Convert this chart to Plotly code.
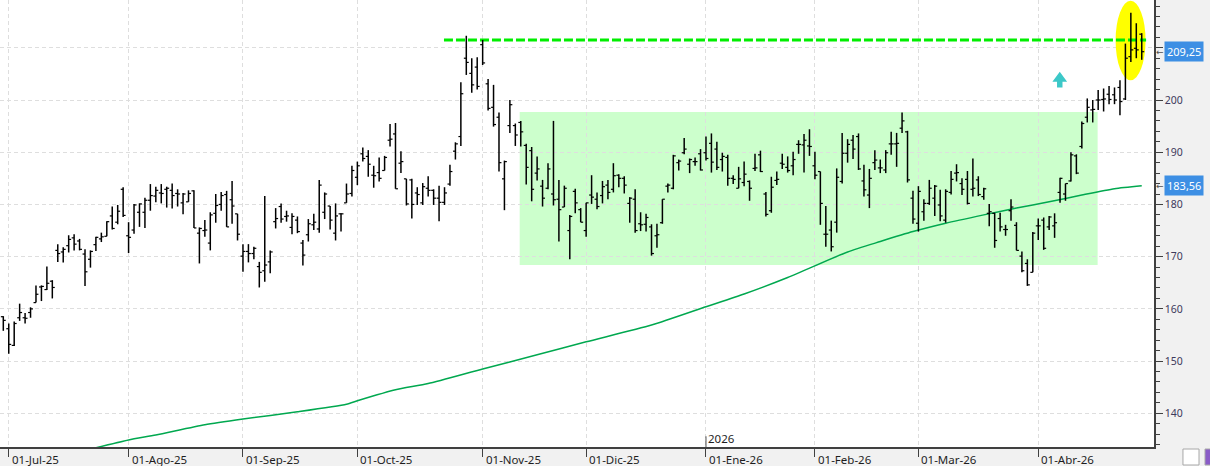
import pandas as pd
import plotly.graph_objects as go

# ---------------- data ----------------
holidays = ['2025-07-04', '2025-09-01', '2025-11-27', '2025-12-25',
            '2026-01-01', '2026-01-19', '2026-02-16', '2026-04-03']
dates = [d.strftime('%Y-%m-%d') for d in pd.bdate_range('2025-06-30', '2026-04-29')
         if d.strftime('%Y-%m-%d') not in holidays]

open_ = [158.5, 156.2, 153.0, 158.3, 158.3, 159.3, 161.2, 164.2, 163.7, 165.3,
         171.2, 170.9, 172.1, 173.6, 173.0, 170.5, 169.5, 172.3, 173.4, 173.9,
         177.8, 176.6, 182.9, 174.0, 175.1, 178.5, 178.5, 180.8, 181.6, 182.2,
         182.9, 182.7, 182.1, 180.3, 180.5, 182.6, 174.5, 175.0, 172.6, 178.3,
         180.0, 181.9, 180.9, 178.2, 170.1, 171.0, 170.6, 168.1, 167.3, 169.0,
         176.7, 179.6, 177.7, 175.6, 177.0, 172.6, 174.2, 176.1, 175.3, 178.5,
         179.7, 174.5, 178.2, 180.3, 182.1, 185.2, 189.7, 189.2, 185.6, 186.1,
         186.5, 192.3, 193.5, 187.9, 184.9, 184.7, 182.2, 180.3, 183.1, 182.7,
         181.2, 180.4, 183.9, 190.2, 193.0, 208.0, 205.1, 206.3, 210.6, 203.1,
         198.6, 196.7, 184.9, 195.1, 195.1, 195.7, 191.3, 190.3, 186.0, 183.5,
         183.1, 182.0, 181.0, 179.5, 175.0, 182.5, 179.0, 175.0, 181.8, 181.0,
         181.7, 183.7, 182.9, 185.6, 185.0, 180.2, 181.0, 176.3, 176.2, 175.7,
         174.0, 176.5, 183.5, 183.1, 188.0, 189.9, 187.7, 188.2, 189.7, 189.9,
         191.7, 190.6, 188.6, 189.0, 185.0, 183.1, 184.2, 184.4, 186.9, 189.5,
         182.0, 178.8, 184.6, 187.9, 187.1, 187.4, 191.5, 191.4, 191.2, 187.4,
         186.3, 174.3, 175.1, 176.6, 184.4, 189.8, 192.3, 193.0, 184.5, 181.8,
         188.0, 187.0, 186.6, 191.6, 191.6, 194.6, 193.9, 181.2, 176.4, 178.6,
         180.2, 181.2, 179.9, 177.0, 182.3, 186.0, 184.0, 184.8, 182.9, 184.7,
         181.5, 178.3, 178.3, 177.3, 175.2, 178.8, 176.0, 170.1, 168.7, 167.0,
         175.9, 177.0, 175.7, 175.9, 182.3, 182.0, 184.5, 189.3, 191.1, 196.7,
         198.1, 200.0, 200.1, 201.1, 201.0, 202.4, 200.2, 208.3, 209.9, 212.6]

high = [158.6, 157.2, 157.6, 161.0, 159.2, 160.3, 164.5, 164.5, 168.1, 165.5,
        172.4, 171.8, 174.1, 174.3, 173.4, 171.4, 171.2, 173.8, 174.6, 176.8,
        179.6, 179.9, 183.3, 176.6, 180.1, 180.2, 181.3, 183.9, 183.4, 183.9,
        183.4, 184.0, 182.9, 182.2, 182.7, 182.7, 175.6, 177.0, 178.5, 182.0,
        182.4, 182.6, 184.5, 178.2, 172.4, 172.4, 171.9, 169.0, 181.6, 171.2,
        179.3, 180.2, 178.8, 178.3, 177.7, 173.2, 177.2, 178.2, 184.7, 182.3,
        179.7, 180.2, 178.3, 184.0, 187.4, 188.2, 190.9, 190.4, 187.4, 189.0,
        189.3, 195.4, 195.6, 190.2, 184.9, 184.9, 183.3, 184.1, 185.4, 182.9,
        183.6, 183.3, 187.6, 191.9, 203.4, 212.3, 208.0, 208.2, 211.5, 204.0,
        202.9, 197.6, 188.4, 200.0, 195.5, 196.0, 191.6, 191.0, 189.2, 184.7,
        187.9, 196.0, 184.7, 183.6, 178.0, 183.0, 179.3, 180.3, 185.6, 182.3,
        184.5, 184.7, 187.9, 185.8, 185.4, 181.4, 182.9, 178.5, 178.2, 176.2,
        176.3, 181.0, 184.0, 189.5, 188.6, 192.7, 188.8, 189.0, 190.6, 193.0,
        193.6, 192.0, 189.9, 189.5, 185.6, 187.2, 188.2, 184.6, 189.7, 190.3,
        182.4, 185.3, 186.3, 189.7, 189.2, 190.1, 192.3, 193.5, 194.4, 190.1,
        186.3, 179.7, 176.9, 186.9, 193.7, 192.5, 193.3, 193.6, 187.6, 186.8,
        190.4, 188.6, 190.4, 193.9, 193.7, 197.6, 194.1, 182.6, 183.5, 181.0,
        184.7, 183.7, 182.8, 182.9, 186.4, 187.7, 185.0, 186.4, 188.8, 185.4,
        183.2, 180.1, 178.4, 178.4, 176.1, 181.0, 176.6, 171.0, 169.5, 174.7,
        177.3, 177.5, 177.8, 178.3, 185.1, 184.0, 190.0, 189.6, 195.9, 200.3,
        200.0, 201.9, 202.2, 202.7, 202.4, 203.8, 210.8, 216.7, 214.7, 212.8]

low = [155.8, 151.4, 152.9, 157.7, 157.2, 158.3, 161.2, 161.5, 163.6, 162.0,
       169.0, 168.9, 170.8, 171.2, 171.2, 164.4, 167.9, 171.1, 172.8, 173.9,
       175.2, 176.2, 177.6, 170.7, 174.4, 175.7, 175.5, 178.8, 180.4, 180.2,
       179.4, 179.2, 179.6, 178.1, 180.5, 175.5, 168.7, 173.8, 171.2, 176.5,
       178.8, 175.7, 176.3, 173.1, 167.1, 168.9, 169.5, 164.1, 165.2, 166.8,
       175.4, 176.5, 176.7, 174.3, 174.5, 168.3, 172.9, 175.1, 174.6, 177.2,
       175.2, 173.1, 174.8, 180.3, 181.5, 183.7, 188.2, 185.3, 183.2, 184.4,
       186.5, 191.1, 183.0, 186.0, 179.8, 177.3, 179.9, 179.9, 181.5, 179.9,
       176.8, 179.9, 183.6, 188.6, 191.2, 204.8, 201.4, 202.0, 206.7, 198.0,
       194.9, 186.3, 178.9, 193.7, 191.2, 191.1, 183.8, 180.6, 184.6, 179.6,
       182.9, 179.8, 172.9, 179.5, 169.5, 178.3, 176.6, 173.8, 180.1, 179.1,
       180.2, 181.0, 182.3, 183.3, 182.1, 176.5, 174.6, 174.9, 174.8, 170.2,
       171.7, 176.3, 182.3, 182.9, 186.5, 189.6, 186.0, 187.4, 186.5, 188.4,
       186.1, 186.6, 186.3, 183.6, 183.9, 183.1, 183.5, 180.7, 186.4, 186.2,
       177.7, 178.4, 183.7, 186.8, 186.1, 185.6, 189.7, 186.1, 189.3, 184.8,
       176.1, 171.9, 171.0, 174.6, 184.0, 188.0, 188.7, 186.6, 181.5, 179.3,
       186.6, 186.0, 186.0, 189.5, 187.2, 193.7, 184.2, 176.3, 174.8, 176.9,
       179.9, 177.8, 176.8, 176.5, 181.9, 184.4, 181.8, 180.0, 181.5, 181.6,
       180.9, 175.8, 171.7, 174.8, 174.0, 176.9, 171.2, 167.0, 164.4, 167.0,
       173.2, 171.3, 175.1, 173.6, 180.3, 180.7, 184.4, 185.8, 190.7, 195.7,
       195.7, 198.1, 197.8, 199.2, 199.2, 197.1, 200.0, 207.3, 208.0, 207.7]

close = [157.8, 153.2, 157.2, 159.3, 158.2, 160.0, 162.8, 164.3, 164.9, 164.1,
         170.6, 171.4, 173.3, 172.4, 171.4, 167.1, 171.0, 173.7, 173.8, 176.7,
         175.4, 178.7, 177.9, 173.7, 179.9, 180.1, 180.8, 181.7, 182.7, 182.1,
         183.1, 181.7, 182.0, 182.0, 182.1, 175.5, 175.4, 175.1, 178.0, 179.8,
         181.7, 175.7, 179.7, 174.3, 171.0, 170.6, 171.6, 167.0, 168.4, 170.9,
         177.3, 177.2, 177.8, 177.7, 174.8, 170.3, 176.3, 176.6, 183.7, 182.0,
         177.0, 177.8, 178.2, 182.0, 186.5, 187.4, 188.8, 187.7, 185.5, 185.0,
         189.0, 192.5, 183.0, 188.2, 180.1, 180.0, 181.9, 183.4, 182.7, 181.2,
         180.4, 182.2, 186.3, 191.6, 201.2, 207.2, 202.9, 202.6, 207.1, 198.4,
         195.3, 188.0, 188.2, 199.1, 193.3, 193.9, 187.1, 182.9, 186.8, 181.2,
         186.8, 180.9, 179.0, 183.1, 177.7, 180.3, 176.6, 180.3, 181.4, 179.6,
         183.4, 182.3, 185.5, 185.0, 183.7, 181.2, 175.0, 176.1, 177.5, 170.6,
         174.2, 181.0, 183.7, 189.3, 188.3, 190.6, 188.6, 188.2, 186.6, 188.8,
         188.1, 187.1, 189.2, 185.0, 184.8, 184.9, 185.8, 183.1, 187.0, 186.3,
         178.1, 183.3, 184.8, 187.7, 186.5, 188.6, 191.5, 192.3, 191.1, 185.6,
         180.2, 174.3, 171.9, 185.2, 189.8, 191.5, 190.6, 186.8, 182.8, 185.0,
         188.5, 187.0, 189.9, 191.6, 191.7, 196.0, 184.7, 177.2, 182.5, 180.2,
         183.1, 183.5, 177.8, 182.5, 184.8, 186.1, 182.9, 180.2, 183.1, 181.9,
         183.0, 178.6, 173.1, 175.7, 175.2, 179.5, 171.2, 167.3, 164.6, 174.5,
         175.9, 171.6, 177.6, 176.5, 185.0, 184.0, 189.5, 186.0, 195.5, 198.6,
         198.2, 200.0, 200.2, 200.1, 200.0, 199.7, 208.0, 209.6, 209.6, 209.25]

# moving average (read at selected sessions)
ma_dates = ['2025-07-24', '2025-08-01', '2025-08-08', '2025-08-21', '2025-09-02',
            '2025-09-16', '2025-09-29', '2025-10-01', '2025-10-10', '2025-10-20',
            '2025-11-03', '2025-11-17', '2025-12-01', '2025-12-17', '2026-01-02',
            '2026-01-13', '2026-01-26', '2026-02-10', '2026-02-19', '2026-02-27',
            '2026-03-09', '2026-03-18', '2026-03-26', '2026-04-06', '2026-04-14',
            '2026-04-22', '2026-04-29']
ma_values = [133.4, 134.9, 135.85, 137.8, 138.9,
             140.3, 141.75, 142.4, 144.5, 145.7,
             148.5, 151.2, 153.7, 156.9, 160.4,
             162.85, 166.0, 170.9, 172.9, 174.8,
             176.4, 178.0, 179.3, 180.5, 181.8,
             183.0, 183.56]

month_labels = ['01-Jul-25', '01-Ago-25', '01-Sep-25', '01-Oct-25', '01-Nov-25',
                '01-Dic-25', '01-Ene-26', '01-Feb-26', '01-Mar-26', '01-Abr-26']
y_ticks = [140, 150, 160, 170, 180, 190, 200, 210]
y_ticktext = ['140', '150', '160', '170', '180', '190', '200', '']

resistance = 211.5
last_close = 209.25
last_ma = 183.56

# ---------------- build ----------------
n = len(dates)
pos = {d: i for i, d in enumerate(dates)}
xs = list(range(n))

# first trading session of each month (July 2025 onwards)
month_idx = []
prev = dates[0][:7]
for i, d in enumerate(dates):
    if d[:7] != prev:
        month_idx.append(i)
        prev = d[:7]

tw = 0.45
stem_x, stem_y, t_x, t_y = [], [], [], []
for i in xs:
    stem_x += [i, i, None]
    stem_y += [low[i], high[i], None]
    t_x += [i - tw, i, None, i, i + tw, None]
    t_y += [open_[i], open_[i], None, close[i], close[i], None]

fig = go.Figure()
fig.add_trace(go.Scatter(x=[pos[d] for d in ma_dates], y=ma_values, mode='lines',
                         line=dict(color='#00a84f', width=1.5, shape='spline', smoothing=0.6),
                         hoverinfo='skip'))
fig.add_trace(go.Scatter(x=stem_x, y=stem_y, mode='lines',
                         line=dict(color='#000000', width=1.5), hoverinfo='skip'))
fig.add_trace(go.Scatter(x=t_x, y=t_y, mode='lines',
                         line=dict(color='#000000', width=1.2), hoverinfo='skip'))

grid = '#dedede'
axis_col = '#404040'
font_fam = 'Noto Sans, DejaVu Sans, sans-serif'
jan_idx = month_idx[6]

shapes = [
    # consolidation box
    dict(type='rect', xref='x', yref='y', x0=94.8, x1=200.9, y0=168.4, y1=197.7,
         fillcolor='#ccffcc', line=dict(width=0), layer='below'),
    # yellow ellipse
    dict(type='circle', xref='x', yref='y', x0=204.2, x1=209.7, y0=203.8, y1=219.0,
         fillcolor='#ffff00', line=dict(width=0), layer='between'),
    # resistance line
    dict(type='line', xref='x', yref='y', x0=80.9, x1=209.8, y0=resistance, y1=resistance,
         line=dict(color='#00ee00', width=3, dash='9px,3px'), layer='between'),
    # up arrow
    dict(type='path', xref='x', yref='y',
         path='M 193.95,205.42 L 195.3,203.5 L 194.45,203.5 L 194.45,202.37 '
              'L 193.45,202.37 L 193.45,203.5 L 192.6,203.5 Z',
         fillcolor='#3cc8c8', line=dict(width=0), layer='above'),
    # 2026 year marker
    dict(type='line', xref='x', yref='paper', x0=jan_idx, x1=jan_idx, y0=0, y1=0.024,
         line=dict(color='#505050', width=1)),
    # bottom-right buttons
    dict(type='rect', xref='paper', yref='paper', x0=1.0251, x1=1.0390, y0=-0.0045, y1=-0.0403,
         fillcolor='#ffffff', line=dict(color='#a8a8a8', width=1)),
    dict(type='rect', xref='paper', yref='paper', x0=1.0442, x1=1.07, y0=-0.0045, y1=-0.0403,
         fillcolor='#8a5cc8', line=dict(color='#a8a8a8', width=1)),
]

annotations = []
for idx, lab in zip(month_idx, month_labels):
    annotations.append(dict(x=idx, xref='x', y=-0.027, yref='paper', text=lab,
                            xanchor='left', yanchor='middle', xshift=1, showarrow=False,
                            font=dict(family=font_fam, size=11.5, color='#1e1e1e')))
annotations.append(dict(x=jan_idx, xref='x', y=0.019, yref='paper', text='2026',
                        xanchor='left', yanchor='middle', xshift=0, showarrow=False,
                        font=dict(family=font_fam, size=11.5, color='#1e1e1e')))
for val in [last_close, last_ma]:
    annotations.append(dict(x=1, xref='paper', y=val, yref='y',
                            text=f'{val:.2f}'.replace('.', ','),
                            xanchor='left', yanchor='middle', xshift=10, showarrow=False,
                            bgcolor='#3d8fe4', borderpad=2,
                            font=dict(family=font_fam, size=11, color='#ffffff')))
    annotations.append(dict(x=1, xref='paper', y=val, yref='y', text='←',
                            xanchor='left', yanchor='middle', xshift=0, showarrow=False,
                            font=dict(family=font_fam, size=9, color='#505050')))

fig.update_layout(
    width=1210, height=466,
    margin=dict(l=0, r=56, t=0, b=19),
    paper_bgcolor='#f1f1f1', plot_bgcolor='#ffffff',
    showlegend=False,
    shapes=shapes, annotations=annotations,
    xaxis=dict(type='linear', range=[-0.606, 211.25], tickvals=month_idx,
               showticklabels=False, ticks='outside', ticklen=8, tickcolor=axis_col,
               showgrid=True, gridcolor=grid, griddash='4px,3px', gridwidth=1,
               showline=True, linecolor=axis_col, linewidth=1.5, zeroline=False,
               fixedrange=True),
    yaxis=dict(side='right', range=[133.55, 219.15], tickvals=y_ticks, ticktext=y_ticktext,
               ticks='outside', ticklen=7, tickcolor=axis_col,
               minor=dict(dtick=2, tick0=0, ticks='outside', ticklen=4, tickcolor=axis_col,
                          showgrid=False),
               showgrid=True, gridcolor=grid, griddash='4px,3px', gridwidth=1,
               showline=True, linecolor=axis_col, linewidth=1.5, zeroline=False,
               tickfont=dict(family=font_fam, size=10.5, color='#3d3a5c')),
)

fig.write_html('out.html')
